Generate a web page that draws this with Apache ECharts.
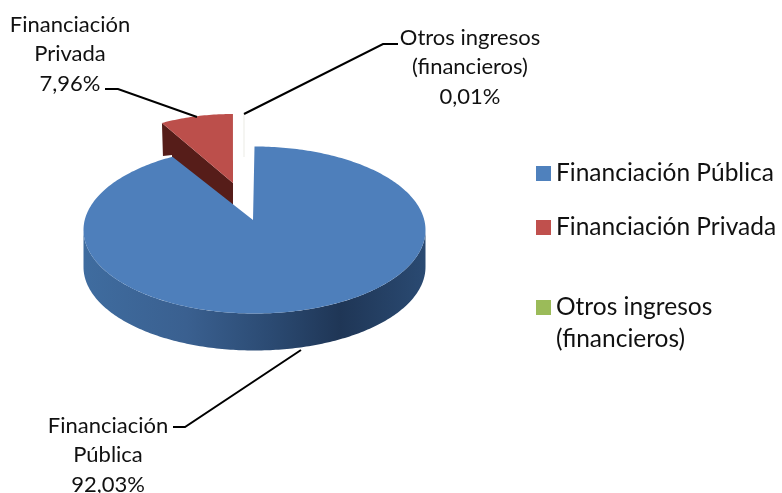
<!DOCTYPE html>
<html>
<head>
    <meta charset="utf-8">
    <title>Financiación</title>
    <script src="https://cdn.jsdelivr.net/npm/echarts@6/dist/echarts.min.js"></script>
    <style>html,body{margin:0;padding:0;background:#fff}</style>
</head>
<body>
    <div id="main" style="width:782px;height:493px;"></div>
    <script>
        var categories = ['Financiación Pública', 'Financiación Privada', 'Otros ingresos (financieros)'];
        var labelNames = ['Financiación\nPública', 'Financiación\nPrivada', 'Otros ingresos\n(financieros)'];
        var shares = [92.03, 7.96, 0.01];
        var colors = ['#4f81bd', '#c0504d', '#9bbb59'];

        var total = shares.reduce(function (a, b) { return a + b; }, 0);
        var font = 'Lato, "Open Sans", sans-serif';

        // start and end angle of a slice, clockwise from 12 o'clock
        function sliceAngles(idx) {
            var before = 0;
            for (var i = 0; i < idx; i++) before += shares[i];
            return [before / total * Math.PI * 2, (before + shares[idx]) / total * Math.PI * 2];
        }

        function rimPoint(g, a) {
            return [g.cx + g.rx * Math.sin(a), g.cy - g.ry * Math.cos(a)];
        }

        function arcPoints(g, a0, a1) {
            var pts = [];
            var n = Math.max(2, Math.ceil(Math.abs(a1 - a0) * 60));
            for (var i = 0; i <= n; i++) pts.push(rimPoint(g, a0 + (a1 - a0) * i / n));
            return pts;
        }

        // the fake 3D look: each slice has its own projected ellipse and apex
        var geometry = [
            {cx: 254.5, cy: 230, rx: 171, ry: 83.5, apex: [253, 220], depth: 37},
            {cx: 233, cy: 187, rx: 148, ry: 73, apex: [233, 183], depth: 23},
            {cx: 244, cy: 187, rx: 148, ry: 73, apex: [244, 157], depth: 0}
        ];
        var callouts = [
            {x: 108, y: 455, line: [[173, 427], [185, 427], [301, 350]]},
            {x: 70, y: 54, line: [[105, 89], [118, 89], [197, 117]]},
            {x: 470, y: 67, line: [[398, 44], [383, 44], [244, 114]]}
        ];
        var sideStyles = [
            new echarts.graphic.LinearGradient(0, 0, 1, 0, [
                {offset: 0, color: '#3f6c9f'},
                {offset: 0.3, color: '#3a6090'},
                {offset: 0.55, color: '#2b4a72'},
                {offset: 0.75, color: '#1f3656'},
                {offset: 1, color: '#2a4a72'}
            ]),
            '#561d19',
            '#f2f2ee'
        ];
        var topStyles = ['#4e7fbb', '#bc4f4b', '#f2f2ee'];

        function renderSlice(idx) {
            return function (params, api) {
                var g = geometry[idx];
                var ang = sliceAngles(idx);
                var children = [];
                var arc = arcPoints(g, ang[0], ang[1]);
                if (idx === 0) {
                    // front rim of the pie
                    var front = arcPoints(g, Math.PI / 2, Math.PI * 1.5);
                    var lower = front.map(function (p) { return [p[0], p[1] + g.depth]; }).reverse();
                    children.push({type: 'polygon', shape: {points: front.concat(lower)}, style: {fill: sideStyles[0]}});
                } else if (idx === 1) {
                    // cut face of the exploded slice, the blue slice covers its foot
                    var p = arc[0];
                    children.push({type: 'polygon', shape: {points: [p, g.apex, [g.apex[0], g.apex[1] + g.depth], [172, 162], [172, 155], [p[0] + 1, 156]]}, style: {fill: sideStyles[1]}});
                }
                var face = {type: 'polygon', shape: {points: [g.apex].concat(arc)}, style: {fill: topStyles[idx]}};
                if (idx === 2) {
                    face.style.stroke = topStyles[idx];
                    face.style.lineWidth = 1;
                }
                children.push(face);

                var c = callouts[idx];
                children.push({type: 'polyline', shape: {points: c.line}, style: {fill: 'none', stroke: '#000', lineWidth: 2}});
                children.push({
                    type: 'text',
                    style: {
                        x: c.x, y: c.y,
                        text: labelNames[idx] + '\n' + shares[idx].toFixed(2).replace('.', ',') + '%',
                        textAlign: 'center', textVerticalAlign: 'middle',
                        fill: '#111', font: '22px ' + font, lineHeight: 29.5
                    }
                });
                return {type: 'group', children: children};
            };
        }

        // draw order: exploded slice and sliver behind the main slice
        var series = categories.map(function (name, i) {
            return {
                name: name,
                type: 'custom',
                coordinateSystem: 'none',
                renderItem: renderSlice(i),
                data: [shares[i]],
                z: i === 0 ? 3 : 2,
                silent: true,
                itemStyle: {color: colors[i]}
            };
        });

        function legendAt(i, top) {
            return {
                data: [categories[i]],
                left: 531, top: top,
                orient: 'vertical', icon: 'rect',
                itemWidth: 15, itemHeight: 15, itemGap: 0,
                padding: 5, selectedMode: false,
                formatter: function (n) { return n.split(' (')[0]; },
                textStyle: {fontFamily: font, fontSize: 24.5, color: '#111'}
            };
        }

        var myChart = echarts.init(document.getElementById('main'));
        myChart.setOption({
            animation: false,
            backgroundColor: '#fff',
            legend: [legendAt(0, 156), legendAt(1, 210), legendAt(2, 290)],
            graphic: [{
                type: 'text', left: 556, top: 327,
                style: {text: '(' + categories[2].split(' (')[1], fill: '#111', font: '24.5px ' + font}
            }],
            series: series
        });
    </script>
</body>
</html>
